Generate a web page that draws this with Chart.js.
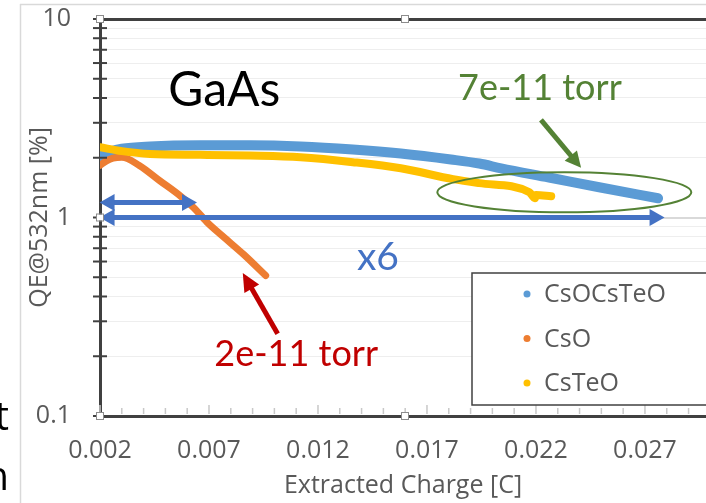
<!DOCTYPE html>
<html lang="en">
<head>
    <meta charset="UTF-8">
    <title>GaAs QE vs Extracted Charge</title>

    <!-- Chart.js -->
    <script src="https://cdn.jsdelivr.net/npm/chart.js"></script>

    <style>
        html, body {
            margin: 0;
            padding: 0;
            background: white;
        }

        .chart-container {
            position: relative;
            width: 706px;
            height: 503px;
        }
    </style>
</head>
<body>
    <div class="chart-container">
        <canvas id="qeChart"></canvas>
    </div>

    <script>
        // QE@532nm [%] against extracted charge [C], one pair of arrays per cathode
        const csocsteoCharge = [0.0020, 0.0025, 0.0030, 0.0043, 0.0066, 0.0089, 0.0112, 0.0136, 0.0158, 0.0181, 0.0194, 0.0204, 0.0226, 0.0249, 0.0276];
        const csocsteoQE     = [2.03, 2.15, 2.22, 2.28, 2.31, 2.31, 2.28, 2.20, 2.10, 1.96, 1.87, 1.77, 1.59, 1.42, 1.25];

        const csoCharge = [0.0020, 0.0023, 0.0026, 0.0030, 0.0038, 0.00475, 0.0057, 0.0063, 0.0069, 0.0076, 0.0086, 0.0096];
        const csoQE     = [1.83, 1.93, 1.99, 2.01, 1.83, 1.53, 1.28, 1.12, 0.95, 0.81, 0.65, 0.51];

        const csteoCharge = [0.0020, 0.0030, 0.0043, 0.0066, 0.0089, 0.0112, 0.0136, 0.0158, 0.0182, 0.0194, 0.0217, 0.02195, 0.0220, 0.0227];
        const csteoQE     = [2.26, 2.16, 2.09, 2.07, 2.05, 2.01, 1.90, 1.77, 1.56, 1.49, 1.34, 1.25, 1.30, 1.28];

        const seriesLabels = ['CsOCsTeO', 'CsO', 'CsTeO'];
        const seriesColors = ['#5B9BD5', '#ED7D31', '#FFC000'];

        // labelled ticks; the axes also carry unlabelled minor ticks
        const xTickLabels = [0.002, 0.007, 0.012, 0.017, 0.022, 0.027];
        const yTickLabels = [0.1, 1, 10];

        const textGrey = '#595959';
        const axisDark = '#404040';

        function toPoints(xs, ys) {
            return xs.map((x, i) => ({ x: x, y: ys[i] }));
        }

        function isLabelled(list, v) {
            return list.some(t => Math.abs(t - v) < 1e-7);
        }

        function line(ctx, x1, y1, x2, y2) {
            ctx.beginPath();
            ctx.moveTo(x1, y1);
            ctx.lineTo(x2, y2);
            ctx.stroke();
        }

        // straight arrow with filled head(s)
        function drawArrow(ctx, x1, y1, x2, y2, opts) {
            const { width, headLen, headWidth, color, both } = opts;
            const ang = Math.atan2(y2 - y1, x2 - x1);
            const ux = Math.cos(ang), uy = Math.sin(ang);
            const sx = both ? x1 + ux * headLen * 0.8 : x1;
            const sy = both ? y1 + uy * headLen * 0.8 : y1;
            ctx.save();
            ctx.strokeStyle = color;
            ctx.fillStyle = color;
            ctx.lineWidth = width;
            line(ctx, sx, sy, x2 - ux * headLen * 0.8, y2 - uy * headLen * 0.8);
            const head = (tx, ty, dx, dy) => {
                ctx.beginPath();
                ctx.moveTo(tx, ty);
                ctx.lineTo(tx - dx * headLen - dy * headWidth / 2, ty - dy * headLen + dx * headWidth / 2);
                ctx.lineTo(tx - dx * headLen + dy * headWidth / 2, ty - dy * headLen - dx * headWidth / 2);
                ctx.closePath();
                ctx.fill();
            };
            head(x2, y2, ux, uy);
            if (both) head(x1, y1, -ux, -uy);
            ctx.restore();
        }

        // tick marks: y ticks cross the axis, x ticks sit just above it
        const axisTicks = {
            id: 'axisTicks',
            afterDatasetsDraw(chart) {
                const { ctx, chartArea, scales } = chart;
                ctx.save();
                ctx.strokeStyle = axisDark;
                ctx.lineWidth = 2;
                scales.y.ticks.forEach(t => {
                    const y = scales.y.getPixelForValue(t.value);
                    line(ctx, chartArea.left - 7, y, chartArea.left + 7, y);
                });
                ctx.strokeStyle = '#c8c8c8';
                ctx.lineWidth = 1.5;
                scales.x.ticks.forEach(t => {
                    const x = scales.x.getPixelForValue(t.value);
                    const len = isLabelled(xTickLabels, t.value) ? 9 : 6;
                    line(ctx, x, chartArea.bottom - 2, x, chartArea.bottom - 2 - len);
                });
                ctx.restore();
            }
        };

        // text, arrows and the ellipse placed in data coordinates
        const annotations = {
            id: 'annotations',
            afterDatasetsDraw(chart) {
                const { ctx, scales } = chart;
                const px = v => scales.x.getPixelForValue(v);
                const py = v => scales.y.getPixelForValue(v);
                const blue = '#4472C4', green = '#548235', red = '#C00000';

                drawArrow(ctx, px(0.00198), py(1), px(0.0279), py(1),
                    { width: 5, headLen: 15, headWidth: 17, color: blue, both: true });
                drawArrow(ctx, px(0.00198), py(1.19), px(0.00645), py(1.19),
                    { width: 5, headLen: 15, headWidth: 17, color: blue, both: true });

                ctx.save();
                ctx.textAlign = 'center';
                ctx.textBaseline = 'middle';

                ctx.font = '48px Lato';
                ctx.fillStyle = '#000000';
                ctx.fillText('GaAs', px(0.0077), py(4.35));

                ctx.font = '39px Lato';
                ctx.fillStyle = blue;
                ctx.fillText('x6', px(0.01475), py(0.63));

                ctx.font = '36px Lato';
                ctx.fillStyle = green;
                ctx.fillText('7e-11 torr', px(0.02218), py(4.45));

                ctx.fillStyle = red;
                ctx.fillText('2e-11 torr', px(0.0110), py(0.205));

                // ellipse round the tail ends of the two long-lived curves
                ctx.strokeStyle = green;
                ctx.lineWidth = 2;
                ctx.beginPath();
                ctx.ellipse(px(0.0233), py(1.34), 127, 20, 0, 0, Math.PI * 2);
                ctx.stroke();
                ctx.restore();

                drawArrow(ctx, px(0.02223), py(3.10), px(0.02407), py(1.78),
                    { width: 5, headLen: 16, headWidth: 16, color: green, both: false });
                drawArrow(ctx, px(0.01015), py(0.26), px(0.00855), py(0.525),
                    { width: 5, headLen: 18, headWidth: 17, color: red, both: false });
            }
        };

        // boxed legend inside the plot, plus frame and edge details
        const legendBox = {
            id: 'legendBox',
            afterDraw(chart) {
                const { ctx, chartArea, data } = chart;
                ctx.save();

                const left = chartArea.left + 372;
                const top = chartArea.top + 254;
                ctx.fillStyle = 'white';
                ctx.fillRect(left, top, 260, 132);
                ctx.strokeStyle = axisDark;
                ctx.lineWidth = 1.5;
                ctx.strokeRect(left, top, 260, 132);

                ctx.font = '25px "Open Sans"';
                ctx.textBaseline = 'middle';
                data.datasets.forEach((ds, i) => {
                    const y = top + 21 + i * 44.5;
                    ctx.fillStyle = ds.borderColor;
                    ctx.beginPath();
                    ctx.arc(left + 55, y, 3.5, 0, Math.PI * 2);
                    ctx.fill();
                    ctx.fillStyle = textGrey;
                    ctx.fillText(ds.label, left + 72, y + 1);
                });

                // light outer frame
                ctx.strokeStyle = '#d9d9d9';
                ctx.lineWidth = 1.5;
                line(ctx, 20.5, 4, 20.5, 503);
                line(ctx, 20, 4.5, 706, 4.5);

                // selection handles on the plot area
                ctx.fillStyle = 'white';
                ctx.strokeStyle = '#8c8c8c';
                ctx.lineWidth = 1;
                const midX = chartArea.left + 305;
                const midY = chart.scales.y.getPixelForValue(1);
                [[chartArea.left, chartArea.top], [midX, chartArea.top], [chartArea.left, midY],
                 [chartArea.left, chartArea.bottom], [midX, chartArea.bottom]].forEach(([hx, hy]) => {
                    ctx.fillRect(hx - 3, hy - 3, 6, 6);
                    ctx.strokeRect(hx - 3.5, hy - 3.5, 7, 7);
                });

                // clipped text at the page edge
                ctx.fillStyle = '#000000';
                ctx.font = '40px "Open Sans"';
                ctx.textAlign = 'right';
                ctx.textBaseline = 'alphabetic';
                ctx.fillText('t', 9, 430);
                ctx.fillText('n', 9, 490);
                ctx.restore();
            }
        };

        const datasets = [
            { x: csocsteoCharge, y: csocsteoQE, width: 10 },
            { x: csoCharge, y: csoQE, width: 7 },
            { x: csteoCharge, y: csteoQE, width: 8 }
        ].map((s, i) => ({
            label: seriesLabels[i],
            data: toPoints(s.x, s.y),
            borderColor: seriesColors[i],
            backgroundColor: seriesColors[i],
            borderWidth: s.width,
            borderCapStyle: 'round',
            borderJoinStyle: 'round',
            showLine: true,
            pointRadius: 0,
            cubicInterpolationMode: 'monotone',
            order: 2 - i
        }));

        const xMinor = [];
        for (let k = 0; k <= 27; k++) xMinor.push(+(0.002 + k * 0.001).toFixed(3));

        const yMinor = [];
        [0.1, 1].forEach(d => { for (let m = 1; m <= 9; m++) yMinor.push(+(d * m).toFixed(2)); });
        yMinor.push(10);

        new Chart(document.getElementById('qeChart'), {
            type: 'scatter',
            data: { datasets: datasets },
            plugins: [axisTicks, annotations, legendBox],
            options: {
                responsive: true,
                maintainAspectRatio: false,
                devicePixelRatio: 1,
                animation: false,
                layout: { padding: { left: 20, top: 19, right: 0, bottom: 0 } },
                plugins: {
                    legend: { display: false },
                    tooltip: { enabled: false }
                },
                scales: {
                    x: {
                        type: 'linear',
                        min: 0.002,
                        max: 0.0298,
                        afterBuildTicks: scale => {
                            scale.ticks = xMinor.map(v => ({ value: v }));
                        },
                        afterFit: scale => {
                            scale.height = 87;
                            scale.paddingLeft = 0;
                            scale.paddingRight = 0;
                        },
                        ticks: {
                            autoSkip: false,
                            maxRotation: 0,
                            padding: 20,
                            color: textGrey,
                            font: { family: 'Open Sans', size: 25 },
                            callback: v => isLabelled(xTickLabels, v) ? v.toFixed(3) : ''
                        },
                        grid: { drawOnChartArea: false, drawTicks: false },
                        border: { color: axisDark, width: 3 },
                        title: {
                            display: true,
                            text: 'Extracted Charge [C]',
                            color: textGrey,
                            font: { family: 'Open Sans', size: 25 },
                            padding: { top: 0, bottom: 2 }
                        }
                    },
                    y: {
                        type: 'logarithmic',
                        min: 0.1,
                        max: 10,
                        afterBuildTicks: scale => {
                            scale.ticks = yMinor.map(v => ({ value: v }));
                        },
                        afterFit: scale => {
                            scale.width = 80;
                            scale.paddingTop = 0;
                            scale.paddingBottom = 0;
                        },
                        ticks: {
                            autoSkip: false,
                            padding: 29,
                            color: textGrey,
                            font: { family: 'Open Sans', size: 25 },
                            callback: v => isLabelled(yTickLabels, v) ? String(v) : ''
                        },
                        grid: {
                            drawTicks: false,
                            color: ctx => {
                                const v = ctx.tick ? ctx.tick.value : 0;
                                if (Math.abs(v - 10) < 1e-6) return axisDark;
                                return isLabelled(yTickLabels, v) ? '#d9d9d9' : '#eeeeee';
                            },
                            lineWidth: ctx => {
                                const v = ctx.tick ? ctx.tick.value : 0;
                                if (Math.abs(v - 10) < 1e-6) return 3;
                                return isLabelled(yTickLabels, v) ? 2 : 1;
                            }
                        },
                        border: { color: axisDark, width: 3 },
                        title: {
                            display: true,
                            text: 'QE@532nm [%]',
                            color: textGrey,
                            font: { family: 'Open Sans', size: 25 },
                            padding: { top: 5, bottom: 0 }
                        }
                    }
                }
            }
        });
    </script>
</body>
</html>
